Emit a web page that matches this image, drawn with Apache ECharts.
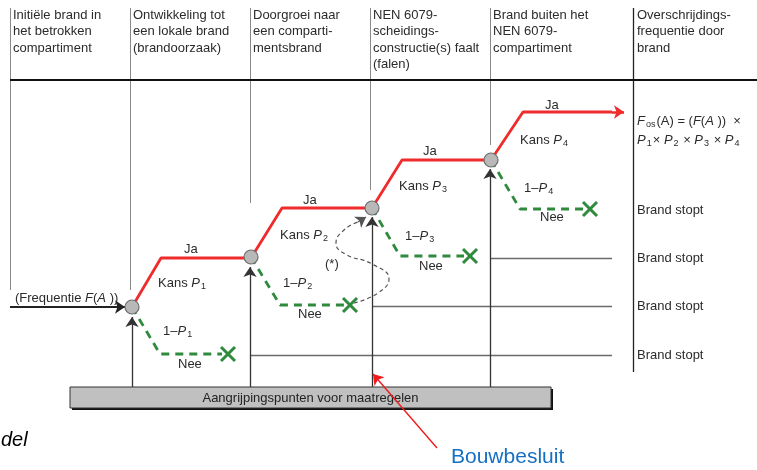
<!DOCTYPE html>
<html>
<head>
<meta charset="utf-8">
<script src="https://cdn.jsdelivr.net/npm/echarts@6/dist/echarts.min.js"></script>
<style>
  * { box-sizing: border-box; margin: 0; padding: 0; }
  body { background: #fff; }
  #chart { width: 757px; height: 470px; }
</style>
</head>
<body>
<div id="chart"></div>
<script>
// diagram points, in units of the original figure (x to the right, y downwards)
const nodes = [[132, 307], [251, 257], [372, 208], [491, 160]];
const yesPath = [[132, 307], [161, 258], [251, 258], [282, 208], [372, 208], [402, 160], [491, 160], [523, 112], [612, 112]];
const yesArrowEnd = [[612, 112], [624, 112]];
const noPaths = [
  [[132, 307], [160, 354], [222, 354]],
  [[251, 257], [280, 305], [344, 305]],
  [[372, 208], [400, 256], [464, 256]],
  [[491, 160], [520, 209], [584, 209]]
];
const stopMarks = [[228, 354], [350, 305], [470, 256], [590, 209]];
const loopPath = [[354, 303], [378, 293], [389, 279], [372, 264], [345, 254], [336, 243], [344, 230], [358, 222]];
const loopArrowEnd = [[358, 222], [366, 217]];

// table lines
const columnLines = [
  [[10, 8], [10, 290]],
  [[130, 8], [130, 290]],
  [[250, 8], [250, 203]],
  [[370, 8], [370, 190]],
  [[490, 8], [490, 145]],
  [[633, 8], [633, 372]]
];
const headerRule = [[10, 80], [757, 80]];
const stopLines = [
  [[490, 258], [612, 258]],
  [[372, 306], [612, 306]],
  [[250, 355], [612, 355]]
];
const upArrows = [
  [[132, 387], [132, 317]],
  [[250, 387], [250, 267]],
  [[372, 387], [372, 217]],
  [[490, 387], [490, 169]]
];
const inputArrow = [[10, 307], [125, 307]];
const bouwArrow = [[437, 448], [373, 374]];
const measureBar = [[70, 387, 551, 408]];

// texts
const headerX = [13, 133, 253, 373, 493, 637];
const headers = [
  ['Initiële brand in', 'het betrokken', 'compartiment'],
  ['Ontwikkeling tot', 'een lokale brand', '(brandoorzaak)'],
  ['Doorgroei naar', 'een comparti-', 'mentsbrand'],
  ['NEN 6079-', 'scheidings-', 'constructie(s) faalt', '(falen)'],
  ['Brand buiten het', 'NEN 6079-', 'compartiment'],
  ['Overschrijdings-', 'frequentie door', 'brand']
];
const labels = [
  [15, 298, '(Frequentie {i|F}({i|A} ))'],
  [184, 249, 'Ja'], [303, 200, 'Ja'], [423, 151, 'Ja'], [545, 105, 'Ja'],
  [158, 283, 'Kans {i|P}{s|1}'], [280, 235, 'Kans {i|P}{s|2}'], [399, 186, 'Kans {i|P}{s|3}'], [520, 140, 'Kans {i|P}{s|4}'],
  [163, 331, '1–{i|P}{s|1}'], [283, 283, '1–{i|P}{s|2}'], [405, 236, '1–{i|P}{s|3}'], [524, 188, '1–{i|P}{s|4}'],
  [178, 364, 'Nee'], [298, 314, 'Nee'], [419, 266, 'Nee'], [540, 217, 'Nee'],
  [325, 264, '(*)'],
  [637, 121, '{i|F}{s|os}(A) = ({i|F}({i|A} ))  ×'],
  [637, 140, '{i|P}{s|1}× {i|P}{s|2} × {i|P}{s|3} × {i|P}{s|4}'],
  [637, 210, 'Brand stopt'], [637, 258, 'Brand stopt'], [637, 306, 'Brand stopt'], [637, 355, 'Brand stopt']
];
const barText = 'Aangrijpingspunten voor maatregelen';

const FONT = '"Liberation Sans", Arial, sans-serif';
const RED = '#f02b2b';
const GREEN = '#2f8a3e';

const chart = echarts.init(document.getElementById('chart'));

function seg(coords, style, arrow) {
  return {
    coords: coords,
    lineStyle: Object.assign({ opacity: 1 }, style),
    symbol: arrow ? ['none', 'arrow'] : ['none', 'none'],
    symbolSize: arrow ? [9, 10] : 0
  };
}

const headerData = [];
headers.forEach((lines, c) => {
  lines.forEach((t, r) => headerData.push({ value: [headerX[c], 15 + r * 16.6], label: { formatter: t } }));
});

const labelData = labels.map(l => ({ value: [l[0], l[1]], label: { formatter: l[2] } }));

const rich = {
  i: { fontStyle: 'italic', fontSize: 13, color: '#2b2b2b', fontFamily: FONT },
  s: { fontSize: 9, color: '#2b2b2b', padding: [7, 1, 0, 1], fontFamily: FONT }
};

const option = {
  animation: false,
  backgroundColor: '#fff',
  grid: { left: 0, right: 0, top: 0, bottom: 0 },
  xAxis: { type: 'value', min: 0, max: 757, show: false },
  yAxis: { type: 'value', min: 0, max: 470, inverse: true, show: false },
  series: [
    {
      type: 'custom',
      name: 'bar',
      data: measureBar,
      z: 1,
      renderItem: (params, api) => {
        const p0 = api.coord([api.value(0), api.value(1)]);
        const p1 = api.coord([api.value(2), api.value(3)]);
        const w = p1[0] - p0[0], h = p1[1] - p0[1];
        return {
          type: 'group',
          children: [
            { type: 'rect', shape: { x: p0[0] + 2, y: p0[1] + 2, width: w, height: h }, style: { fill: '#111' } },
            { type: 'rect', shape: { x: p0[0], y: p0[1], width: w, height: h }, style: { fill: '#c0c0c0', stroke: '#333', lineWidth: 1 } },
            { type: 'text', x: (p0[0] + p1[0]) / 2, y: (p0[1] + p1[1]) / 2 + 1,
              style: { text: barText, fill: '#222', font: '13px ' + FONT, align: 'center', verticalAlign: 'middle' } }
          ]
        };
      }
    },
    {
      type: 'lines',
      name: 'table',
      coordinateSystem: 'cartesian2d',
      z: 2,
      lineStyle: { opacity: 1 },
      data: [
        ...columnLines.slice(0, 5).map(c => seg(c, { color: '#8a8a8a', width: 1 })),
        seg(columnLines[5], { color: '#222', width: 1.3 }),
        seg(headerRule, { color: '#111', width: 2.2 }),
        ...stopLines.map(c => seg(c, { color: '#6a6a6a', width: 1.3 })),
        ...upArrows.map(c => seg(c, { color: '#333', width: 1.3 }, true)),
        seg(inputArrow, { color: '#222', width: 2 }, true),
        seg(bouwArrow, { color: '#ee1c1c', width: 1.4 }, true),
        seg(yesArrowEnd, { color: RED, width: 2.5 }, true),
        seg(loopArrowEnd, { color: '#555', width: 1.2 }, true)
      ]
    },
    {
      type: 'line',
      name: 'Ja',
      data: yesPath,
      showSymbol: false,
      z: 3,
      lineStyle: { color: RED, width: 2.8 }
    },
    ...noPaths.map(p => ({
      type: 'line',
      name: 'Nee',
      data: p,
      showSymbol: false,
      z: 3,
      lineStyle: { color: GREEN, width: 2.8, type: [8, 6] }
    })),
    {
      type: 'line',
      name: 'loop',
      data: loopPath,
      smooth: 0.5,
      showSymbol: false,
      z: 3,
      lineStyle: { color: '#555', width: 1.2, type: [4, 3] }
    },
    {
      type: 'custom',
      name: 'stop',
      data: stopMarks,
      z: 4,
      renderItem: (params, api) => {
        const p = api.coord([api.value(0), api.value(1)]);
        const r = 7;
        const st = { stroke: GREEN, lineWidth: 3, lineCap: 'butt' };
        return {
          type: 'group',
          children: [
            { type: 'line', shape: { x1: p[0] - r, y1: p[1] - r, x2: p[0] + r, y2: p[1] + r }, style: st },
            { type: 'line', shape: { x1: p[0] - r, y1: p[1] + r, x2: p[0] + r, y2: p[1] - r }, style: st }
          ]
        };
      }
    },
    {
      type: 'scatter',
      name: 'nodes',
      data: nodes,
      symbolSize: 14,
      z: 5,
      itemStyle: { color: '#b8b8b8', borderColor: '#6e6e6e', borderWidth: 1.2, opacity: 1 }
    },
    {
      type: 'scatter',
      name: 'headers',
      data: headerData,
      symbolSize: 0,
      z: 6,
      itemStyle: { opacity: 1 },
      label: { show: true, position: 'right', distance: 0, color: '#2b2b2b', fontSize: 13, fontFamily: FONT }
    },
    {
      type: 'scatter',
      name: 'labels',
      data: labelData,
      symbolSize: 0,
      z: 6,
      itemStyle: { opacity: 1 },
      label: { show: true, position: 'right', distance: 0, color: '#2b2b2b', fontSize: 13, fontFamily: FONT, rich: rich }
    },
    {
      type: 'scatter',
      name: 'notes',
      symbolSize: 0,
      z: 6,
      itemStyle: { opacity: 1 },
      data: [
        { value: [1, 440], label: { formatter: 'del', fontStyle: 'italic', fontSize: 20, color: '#000' } },
        { value: [451, 457], label: { formatter: 'Bouwbesluit', fontSize: 21, color: '#1570c4' } }
      ],
      label: { show: true, position: 'right', distance: 0, fontFamily: FONT }
    }
  ]
};

chart.setOption(option);
</script>
</body>
</html>
